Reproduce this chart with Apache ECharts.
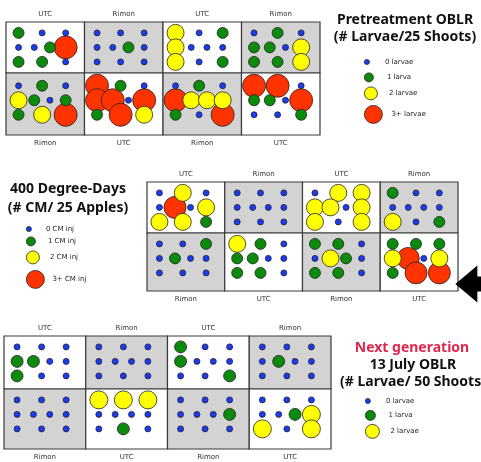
<!DOCTYPE html>
<html><head><meta charset="utf-8">
<script src="https://cdn.jsdelivr.net/npm/echarts@6/dist/echarts.min.js"></script>
<style>html,body{margin:0;padding:0;background:#fff}#c{width:481px;height:462px}</style>
</head><body><div id="c"></div>
<script>
// plot treatments (same pattern in every block)
const topTreatments = ['UTC', 'Rimon', 'UTC', 'Rimon'];
const bottomTreatments = ['Rimon', 'UTC', 'Rimon', 'UTC'];

// orchard layout of the 10 trees in each plot: 3 + 4 + 3
const treeCol = [0.8, 2.3, 3.8, 0.8, 1.8, 2.8, 3.8, 0.8, 2.3, 3.8];
const treeRow = [1, 1, 1, 2, 2, 2, 2, 3, 3, 3];

// values per tree (order: top row, middle row, bottom row), one list per plot
const pretreatTop = [
  [1,0,0, 0,0,1,3, 1,1,0],
  [0,0,0, 0,0,1,0, 0,0,0],
  [2,0,1, 2,0,0,0, 2,0,1],
  [0,1,0, 1,1,0,2, 1,1,2]
];
const pretreatBottom = [
  [0,1,0, 2,1,0,1, 1,2,3],
  [3,1,0, 3,3,0,3, 1,3,2],
  [0,1,0, 3,2,2,2, 1,0,3],
  [3,3,0, 1,1,0,3, 0,0,1]
];
const ddTop = [
  [0,2,0, 0,3,0,2, 2,2,1],
  [0,0,0, 0,0,0,0, 0,0,0],
  [0,2,2, 2,2,0,2, 2,0,2],
  [1,0,0, 0,0,0,0, 2,0,1]
];
const ddBottom = [
  [0,0,1, 0,1,0,0, 0,0,0],
  [2,1,0, 1,1,0,0, 1,1,0],
  [1,1,0, 0,2,1,0, 1,1,0],
  [1,1,1, 2,3,0,2, 1,3,3]
];
const julyTop = [
  [0,0,0, 1,1,0,0, 1,0,0],
  [0,0,0, 0,0,0,0, 0,0,0],
  [1,0,0, 1,0,0,0, 0,0,1],
  [0,0,0, 0,1,0,0, 0,0,0]
];
const julyBottom = [
  [0,0,0, 0,0,0,0, 0,0,0],
  [2,2,2, 0,0,0,0, 0,1,0],
  [0,0,0, 0,0,0,1, 0,0,0],
  [0,0,0, 0,0,1,2, 2,0,2]
];

const pretreatLegend = ['0 larvae', '1 larva', '2 larvae', '3+ larvae'];
const ddLegend = ['0 CM inj', '1 CM inj', '2 CM inj', '3+ CM inj'];
const julyLegend = ['0 larvae', '1 larva', '2 larvae'];

const pretreatTitle = 'Pretreatment OBLR\n(# Larvae/25 Shoots)';
const ddTitle = '400 Degree-Days\n(# CM/ 25 Apples)';
const julyTitleRed = 'Next generation';
const julyTitle = '13 July OBLR\n(# Larvae/ 50 Shoots)';

const valueColors = ['#1a3cf5', '#0b8a0b', '#ffff00', '#ff3300'];
const FONT = 'DejaVu Sans';
const TFONT = 'Noto Sans';
const PX_PER_ROW = 14.5;

const panels = [
  { vals: [pretreatTop, pretreatBottom], names: pretreatLegend, sizes: [6, 11, 17, 23],
    grids: [[6, 22, 314, 51], [6, 73, 314, 62]], yMin: [0.25, 0.12],
    legend: { cx: 377, tx: 395, cy: [63, 77, 93, 114], sz: [5, 9, 13, 18] } },
  { vals: [ddTop, ddBottom], names: ddLegend, sizes: [6, 11, 17, 22],
    grids: [[147, 182, 311, 51], [147, 233, 311, 58]], yMin: [0.25, 0.25],
    legend: { cx: 38, tx: 55, cy: [230, 241, 257, 279], sz: [5, 9, 13, 18] } },
  { vals: [julyTop, julyBottom], names: julyLegend, sizes: [6, 12, 18, 23],
    grids: [[4, 336, 327, 53], [4, 389, 327, 60]], yMin: [0.25, 0.25],
    legend: { cx: 378, tx: 396, cy: [402, 415, 431], sz: [5, 10, 14] } }
];

const grid = [], xAxis = [], yAxis = [], series = [], legend = [];
panels.forEach((p, pi) => {
  [0, 1].forEach(ri => {
    const gi = pi * 2 + ri;
    const [l, t, w, h] = p.grids[ri];
    const yMin = p.yMin[ri];
    const yMax = yMin + h / PX_PER_ROW;
    grid.push({ left: l, top: t, width: w, height: h });
    xAxis.push({ type: 'value', gridIndex: gi, min: 0, max: 20, show: false });
    yAxis.push({ type: 'value', gridIndex: gi, min: yMin, max: yMax, inverse: true, show: false });
    const treats = ri === 0 ? topTreatments : bottomTreatments;
    const bg = {
      type: 'scatter', xAxisIndex: gi, yAxisIndex: gi, data: [], z: 1, silent: true, clip: false,
      markArea: {
        silent: true,
        itemStyle: { color: '#ffffff', opacity: 1, borderColor: '#3a3a3a', borderWidth: 1.2 },
        label: { show: true, position: ri === 0 ? 'top' : 'bottom', distance: 4,
                 color: '#333', fontSize: 7, fontFamily: FONT },
        emphasis: { disabled: true },
        data: treats.map((tr, i) => [
          { name: tr, xAxis: 5 * i, yAxis: yMin,
            itemStyle: { color: tr === 'UTC' ? '#ffffff' : '#d3d3d3', opacity: 1 } },
          { xAxis: 5 * i + 5, yAxis: yMax }
        ])
      }
    };
    if (pi === 1 && ri === 1) {
      bg.markPoint = {
        silent: true,
        symbol: 'path://M0,18.5L22,0L22,11L44,11L44,26L22,26L22,37Z',
        symbolSize: [44, 37],
        itemStyle: { color: '#000' },
        label: { show: false },
        data: [{ coord: [15 + treeCol[9], treeRow[9]], symbolOffset: [38, 11] }]
      };
    }
    series.push(bg);
    const plots = p.vals[ri];
    for (let v = p.names.length - 1; v >= 0; v--) {
      const pts = [];
      plots.forEach((trees, pl) => trees.forEach((val, k) => {
        if (val === v) pts.push([5 * pl + treeCol[k], treeRow[k], val]);
      }));
      series.push({
        name: p.names[v], type: 'scatter', xAxisIndex: gi, yAxisIndex: gi,
        symbol: 'circle', symbolSize: p.sizes[v], z: 6 - v, clip: false, silent: true,
        itemStyle: { color: valueColors[v], borderColor: '#222', borderWidth: 0.8, opacity: 1 },
        emphasis: { disabled: true },
        data: pts
      });
    }
  });
  const lg = p.legend;
  const W = 2 * (lg.tx - lg.cx - 5);
  p.names.forEach((nm, v) => {
    const H = lg.sz[v];
    legend.push({
      data: [nm], icon: 'circle', padding: 0, selectedMode: false,
      left: lg.cx - W / 2, top: lg.cy[v] - Math.max(H, 9) / 2,
      itemWidth: W, itemHeight: H,
      itemStyle: { borderColor: '#222', borderWidth: 0.8 },
      textStyle: { fontSize: 7, fontFamily: FONT, color: '#222' }
    });
  });
});

const tStyle = { fontSize: 14, fontWeight: 'bold', fontFamily: TFONT, color: '#111' };
const title = [
  { text: pretreatTitle, left: 405, top: 12, padding: 0, textAlign: 'center',
    textStyle: Object.assign({}, tStyle, { lineHeight: 17 }) },
  { text: ddTitle, left: 68, top: 180, padding: 0, textAlign: 'center',
    textStyle: Object.assign({}, tStyle, { lineHeight: 19 }) },
  { text: julyTitleRed, left: 412, top: 340, padding: 0, textAlign: 'center',
    textStyle: Object.assign({}, tStyle, { lineHeight: 16, color: '#e0284f' }) },
  { text: julyTitle, left: 413, top: 357, padding: 0, textAlign: 'center',
    textStyle: Object.assign({}, tStyle, { lineHeight: 17 }) }
];

const chart = echarts.init(document.getElementById('c'), null, { renderer: 'canvas' });
chart.setOption({
  animation: false,
  backgroundColor: '#fff',
  title, grid, xAxis, yAxis, series, legend,
  tooltip: { show: false }
});
</script></body></html>
